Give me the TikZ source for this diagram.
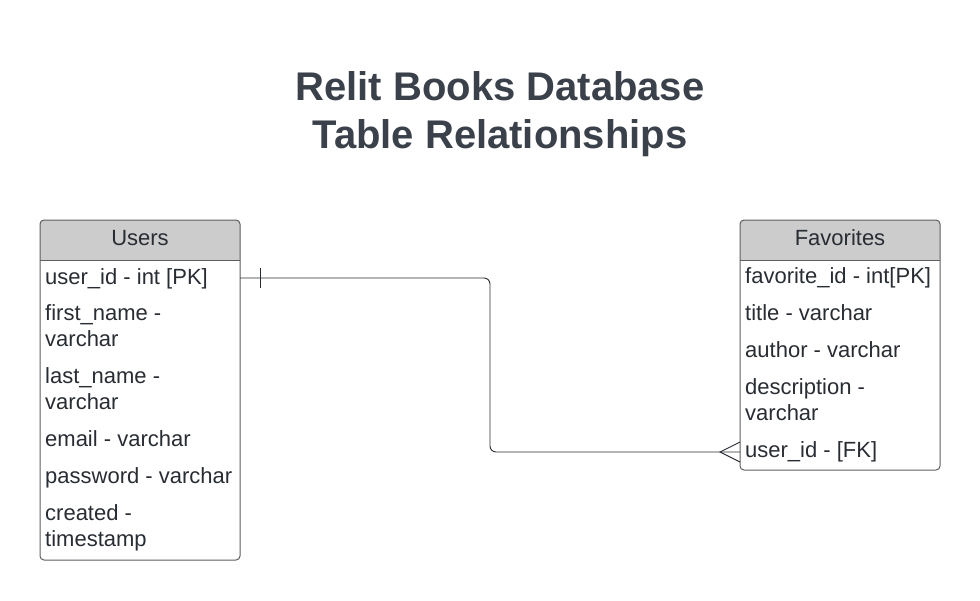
\documentclass[tikz,border=0pt]{standalone}
\usepackage{fontspec}
\setmainfont{Liberation Sans}
\usetikzlibrary{calc}
\definecolor{ink}{HTML}{282C33}
\definecolor{titleink}{HTML}{3A414A}
\definecolor{headgray}{HTML}{CCCCCC}
\definecolor{edgegray}{HTML}{5E5E5E}
\tikzset{
  table/.style={draw=edgegray, line width=1pt, rounded corners=4pt},
  rule/.style={draw=edgegray, line width=1pt},
  field/.style={anchor=base west, inner sep=0pt, text=ink, align=left,
    font=\fontsize{22}{26}\selectfont},
  header/.style={anchor=base, inner sep=0pt, text=ink,
    font=\fontsize{22}{26}\selectfont},
  link/.style={draw=ink, line width=0.9pt},
}
\begin{document}
\begin{tikzpicture}[x=1pt,y=-1pt]
  \useasboundingbox (0,0) rectangle (980,600);
  \node[anchor=base, inner sep=0pt, align=center, text=titleink,
    font=\bfseries\fontsize{40}{48}\selectfont] (title) at (500,148)
    {Relit Books Database\\Table Relationships};

  % users table
  \fill[headgray] (40,260) [rounded corners=4pt] -- (40,220) -- (240,220)
    [sharp corners] -- (240,260) -- cycle;
  \draw[table] (40,220) rectangle (240,560);
  \draw[rule] (40,260) -- (240,260);
  \node[header] (users) at (140,245) {Users};
  \node[field] (user_id) at (45,284.5) {user\_id - int [PK]};
  \node[field] (first_name) at (45,346.5) {first\_name -\\varchar};
  \node[field] (last_name) at (45,409.5) {last\_name -\\varchar};
  \node[field] (email) at (45,446.5) {email - varchar};
  \node[field] (password) at (45,483.5) {password - varchar};
  \node[field] (created) at (45,546.5) {created -\\timestamp};

  % favorites table
  \fill[headgray] (740,260) [rounded corners=4pt] -- (740,220) -- (940,220)
    [sharp corners] -- (940,260) -- cycle;
  \draw[table] (740,220) rectangle (940,470);
  \draw[rule] (740,260) -- (940,260);
  \node[header] (favorites) at (840,245) {Favorites};
  \node[field] (favorite_id) at (745,283.5) {favorite\_id - int[PK]};
  \node[field] (title_col) at (745,320.5) {title - varchar};
  \node[field] (author) at (745,357.5) {author - varchar};
  \node[field] (description) at (745,420.5) {description -\\varchar};
  \node[field] (fav_user_id) at (745,457.5) {user\_id - [FK]};

  % one users row to many favorites
  \coordinate (users-pk) at (240,278);
  \coordinate (fav-fk) at (740,452);
  \draw[link, rounded corners=6pt] (users-pk) -| ($(users-pk)!0.5!(fav-fk)$) |- (fav-fk);
  \draw[link] ($(users-pk)+(20,-10)$) -- ($(users-pk)+(20,10)$);
  \draw[link] ($(fav-fk)+(0,-10)$) -- ($(fav-fk)+(-20,0)$) -- ($(fav-fk)+(0,10)$);
\end{tikzpicture}
\end{document}
